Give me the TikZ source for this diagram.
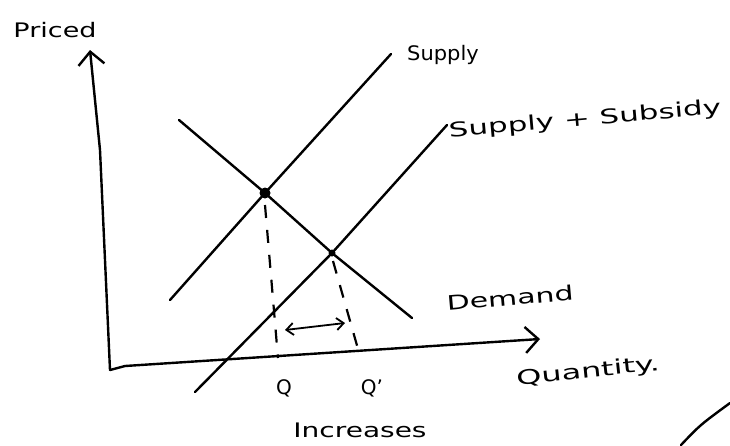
\documentclass[tikz,border=0pt]{standalone}
\usepackage{fontspec}
\setmainfont{DejaVu Sans}
\usetikzlibrary{arrows.meta}
\newcommand{\handtext}[2]{{\addfontfeature{FakeStretch=#1}#2}}
\begin{document}
\begin{tikzpicture}[x=1pt,y=-1pt,
  curve/.style={line width=2.4pt,line cap=round,line join=round},
  axis/.style={line width=2.4pt,line cap=round,line join=round,-{Straight Barb[length=13pt,width=26pt,line width=2.4pt]}},
  guide/.style={line width=2.2pt,dash pattern=on 13pt off 12pt},
  hand/.style={font=\fontsize{20}{22}\selectfont,inner sep=0pt},
  eq/.style={circle,fill=black,inner sep=0pt}]
\useasboundingbox (0,0) rectangle (730,445);
% axes
\coordinate (O) at (110,370);
\coordinate (Ybend) at (100,150);
\coordinate (Ytip) at (90,50);
\coordinate (Xbend) at (125,366);
\coordinate (Xtip) at (540,339);
\draw[axis] (O) -- (Ybend) -- (Ytip);
\draw[axis] (O) -- (Xbend) -- (Xtip);
% equilibria
\node[eq,minimum size=11pt] (E1) at (265,193) {};
\node[eq,minimum size=7pt] (E2) at (332,253) {};
% supply
\coordinate (S0) at (170,300);
\coordinate (S1) at (391,54);
\draw[curve] (S0) -- (E1.center) -- (S1);
% supply + subsidy
\coordinate (T0) at (195,392);
\coordinate (T1) at (447,125);
\draw[curve] (T0) -- (E2.center) -- (T1);
% demand
\coordinate (D0) at (179,120);
\coordinate (D1) at (412,318);
\draw[curve] (D0) -- (E1.center) -- (E2.center) -- (D1);
% dashed guides
\coordinate (Qb) at (278,358);
\coordinate (Qpb) at (360,356);
\draw[guide] (E1.center) ++(0,12) coordinate (E1d) (E1d) -- (Qb);
\draw[guide] (E2.center) ++(1,8) coordinate (E2d) (E2d) -- (Qpb);
% double arrow
\coordinate (A0) at (285,330);
\coordinate (A1) at (345,323);
\draw[line width=1.8pt,{Straight Barb[length=7pt,width=12pt]}-{Straight Barb[length=7pt,width=12pt]}] (A0) -- (A1);
% stray stroke bottom right
\coordinate (R0) at (681,445);
\coordinate (R1) at (730,403);
\draw[curve] (R0) .. controls (700,425) .. (R1);
% labels
\node[hand] (lp) at (55,30) {\handtext{1.35}{Priced}};
\node[hand] (ls) at (443,55) {\handtext{1.05}{Supply}};
\node[hand,rotate=5] (lt) at (585,120) {\handtext{1.55}{Supply + Subsidy}};
\node[hand,rotate=5] (ld) at (510,298) {\handtext{1.5}{Demand}};
\node[hand,rotate=6] (lq) at (588,372) {\handtext{1.6}{Quantity.}};
\node[hand] (lQ) at (284,388) {Q};
\node[hand] (lQp) at (372,388) {Q'};
\node[hand] (li) at (360,430) {\handtext{1.4}{Increases}};
\end{tikzpicture}
\end{document}
